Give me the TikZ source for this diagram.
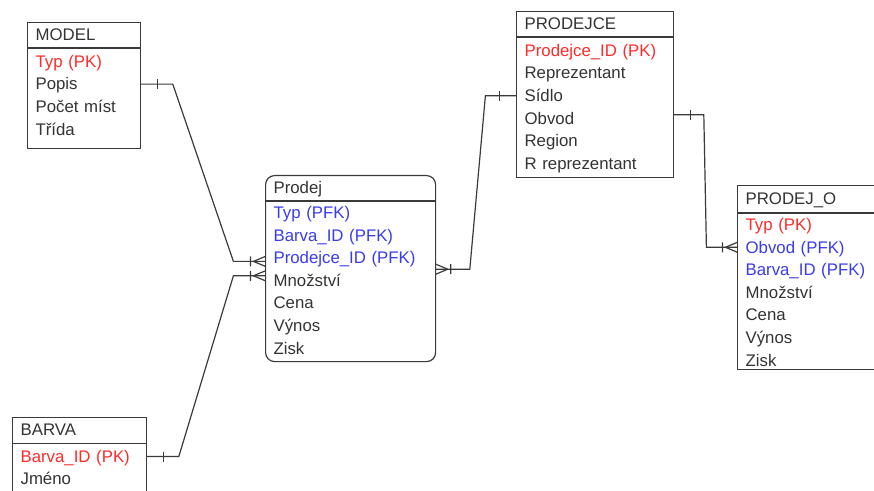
\documentclass[tikz,border=0pt]{standalone}
\usepackage{fontspec}
\setmainfont{Liberation Sans}
\usepackage{tikz}
\usetikzlibrary{positioning}

\definecolor{ink}{HTML}{333333}
\definecolor{edge}{HTML}{3A3A3A}
\definecolor{pkred}{HTML}{FF2A2A}
\definecolor{fkblue}{HTML}{3A3AF0}

\tikzset{
  entity/.style={draw=edge, line width=1.2pt, anchor=north west, inner sep=0pt},
  headbox/.style={inner xsep=8pt, inner ysep=0pt, minimum height=26pt, align=left,
    text=ink, text height=11.5pt, text depth=0pt},
  attr/.style={inner xsep=8pt, inner ysep=0pt, minimum height=22.2pt, align=left,
    text=ink, text height=11.5pt, text depth=0pt},
  pk/.style={text=pkred},
  fk/.style={text=fkblue},
  headline/.style={draw=edge, line width=1.8pt},
  conn/.style={draw=edge, line width=1.2pt},
  crow/.pic={\draw[conn] (-15,-5) -- (-15,5) (-12,0) -- (0,5) (-12,0) -- (0,-5);},
  one/.pic={\draw[conn] (-17,-5) -- (-17,5);}
}

\begin{document}
\begin{tikzpicture}[x=1pt, y=1pt, font=\fontsize{16.8}{20}\selectfont]
\clip (0,0) rectangle (874,490);

\node[entity, minimum width=113pt, minimum height=126pt] (model) at (27,468) {};
\begin{scope}[nodes={text width=97pt}]
\node[headbox, below=0pt of model.north] (model-t) {MODEL};
\node[attr, pk, below=1.85pt of model-t] (model-1) {Typ (PK)};
\node[attr, below=0pt of model-1] (model-2) {Popis};
\node[attr, below=0pt of model-2] (model-3) {Počet míst};
\node[attr, below=0pt of model-3] (model-4) {Třída};
\end{scope}
\draw[headline] (model-t.south west) -- (model-t.south east);

\node[entity, rounded corners=9pt, minimum width=170pt, minimum height=186pt] (prodej) at (265,315) {};
\begin{scope}[nodes={text width=154pt}]
\node[headbox, below=0pt of prodej.north] (prodej-t) {Prodej};
\node[attr, fk, below=0pt of prodej-t] (prodej-1) {Typ (PFK)};
\node[attr, fk, below=0pt of prodej-1] (prodej-2) {Barva\_ID (PFK)};
\node[attr, fk, below=0pt of prodej-2] (prodej-3) {Prodejce\_ID (PFK)};
\node[attr, below=0pt of prodej-3] (prodej-4) {Množství};
\node[attr, below=0pt of prodej-4] (prodej-5) {Cena};
\node[attr, below=0pt of prodej-5] (prodej-6) {Výnos};
\node[attr, below=0pt of prodej-6] (prodej-7) {Zisk};
\end{scope}
\draw[headline] (prodej-t.south west) -- (prodej-t.south east);

\node[entity, minimum width=157pt, minimum height=166pt] (prodejce) at (516,479) {};
\begin{scope}[nodes={text width=141pt}]
\node[headbox, below=0pt of prodejce.north] (prodejce-t) {PRODEJCE};
\node[attr, pk, below=1.85pt of prodejce-t] (prodejce-1) {Prodejce\_ID (PK)};
\node[attr, below=0pt of prodejce-1] (prodejce-2) {Reprezentant};
\node[attr, below=0pt of prodejce-2] (prodejce-3) {Sídlo};
\node[attr, below=0pt of prodejce-3] (prodejce-4) {Obvod};
\node[attr, below=0pt of prodejce-4] (prodejce-5) {Region};
\node[attr, below=0pt of prodejce-5] (prodejce-6) {R reprezentant};
\end{scope}
\draw[headline] (prodejce-t.south west) -- (prodejce-t.south east);

\node[entity, minimum width=160pt, minimum height=184pt] (prodejo) at (737,305) {};
\begin{scope}[nodes={text width=144pt}]
\node[headbox, minimum height=28pt, below=0pt of prodejo.north] (prodejo-t) {PRODEJ\_O};
\node[attr, pk, below=0pt of prodejo-t] (prodejo-1) {Typ (PK)};
\node[attr, fk, below=0pt of prodejo-1] (prodejo-2) {Obvod (PFK)};
\node[attr, fk, below=0pt of prodejo-2] (prodejo-3) {Barva\_ID (PFK)};
\node[attr, below=0pt of prodejo-3] (prodejo-4) {Množství};
\node[attr, below=0pt of prodejo-4] (prodejo-5) {Cena};
\node[attr, below=0pt of prodejo-5] (prodejo-6) {Výnos};
\node[attr, below=0pt of prodejo-6] (prodejo-7) {Zisk};
\end{scope}
\draw[headline] (prodejo-t.south west) -- (prodejo-t.south east);

\node[entity, minimum width=134pt, minimum height=100pt] (barva) at (12,73) {};
\begin{scope}[nodes={text width=118pt}]
\node[headbox, below=0pt of barva.north] (barva-t) {BARVA};
\node[attr, pk, below=1.85pt of barva-t] (barva-1) {Barva\_ID (PK)};
\node[attr, below=0pt of barva-1] (barva-2) {Jméno};
\end{scope}
\draw[headline] (barva-t.south west) -- (barva-t.south east);

\coordinate (in-model) at ([yshift=-3.5pt]prodej-3.west);
\coordinate (in-barva) at ([yshift=4.7pt]prodej-4.west);
\coordinate (out-prodejce) at ([yshift=3.5pt]prodejce-4.east);

\draw[conn] (model-2.east) -- ++(32,0) -- ([xshift=-32pt]in-model) -- (in-model);
\draw[conn] (barva-1.east) -- ++(32,0) -- ([xshift=-32pt]in-barva) -- (in-barva);
\draw[conn] (prodejce-3.west) -- ++(-31,0) -- ([xshift=34pt]prodej-3.south east) -- (prodej-3.south east);
\draw[conn] (out-prodejce) -- ++(30,0) -- ([xshift=-31pt]prodejo-2.west) -- (prodejo-2.west);

\path (model-2.east) pic[rotate=180] {one};
\path (barva-1.east) pic[rotate=180] {one};
\path (prodejce-3.west) pic {one};
\path (out-prodejce) pic[rotate=180] {one};
\path (in-model) pic {crow};
\path (in-barva) pic {crow};
\path (prodej-3.south east) pic[rotate=180] {crow};
\path (prodejo-2.west) pic {crow};
\end{tikzpicture}
\end{document}
